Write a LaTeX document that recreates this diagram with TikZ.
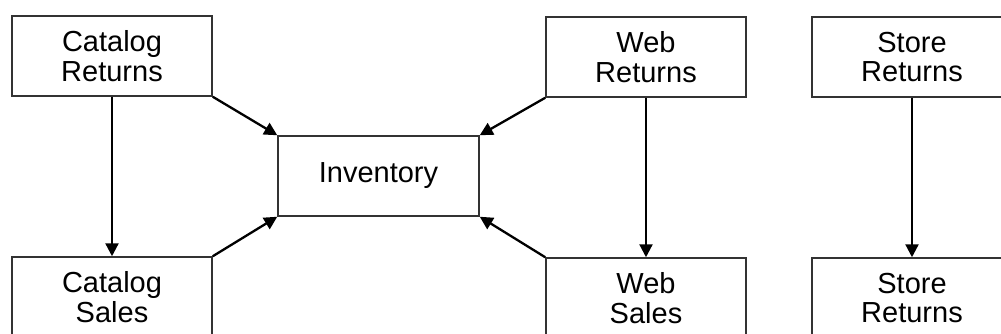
\documentclass[tikz,border=0pt]{standalone}
\usepackage{fontspec}
\setmainfont{Liberation Sans}
\usetikzlibrary{arrows.meta}
\begin{document}
\begin{tikzpicture}[x=1pt,y=-1pt,
  table/.style={draw=black!80, line width=1.5pt, fill=white, minimum width=200pt,
    minimum height=80pt, inner sep=0pt, align=center,
    font=\fontsize{29}{29.5}\selectfont},
  flow/.style={draw=black, line width=2.3pt, -{Triangle[length=13pt,width=13pt]}}]
  \clip (0,0) rectangle (1001,334);
  \fill[white] (0,0) rectangle (1001,334);
  \node[table] (cr) at (112,56) {Catalog\\Returns};
  \node[table] (cs) at (112,297) {Catalog\\Sales};
  \node[table, minimum width=201pt] (inv) at (378.5,176) {Inventory};
  \node[table] (wr) at (646,57) {Web\\Returns};
  \node[table] (ws) at (646,298) {Web\\Sales};
  \node[table] (sr) at (912,57) {Store\\Returns};
  \node[table] (sr2) at (912,298) {Store\\Returns};
  \draw[flow] (cr.south) -- (cs.north);
  \draw[flow] (wr.south) -- (ws.north);
  \draw[flow] (sr.south) -- (sr2.north);
  \draw[flow] (cr.south east) -- (inv.north west);
  \draw[flow] (cs.north east) -- (inv.south west);
  \draw[flow] (wr.south west) -- (inv.north east);
  \draw[flow] (ws.north west) -- (inv.south east);
\end{tikzpicture}
\end{document}
